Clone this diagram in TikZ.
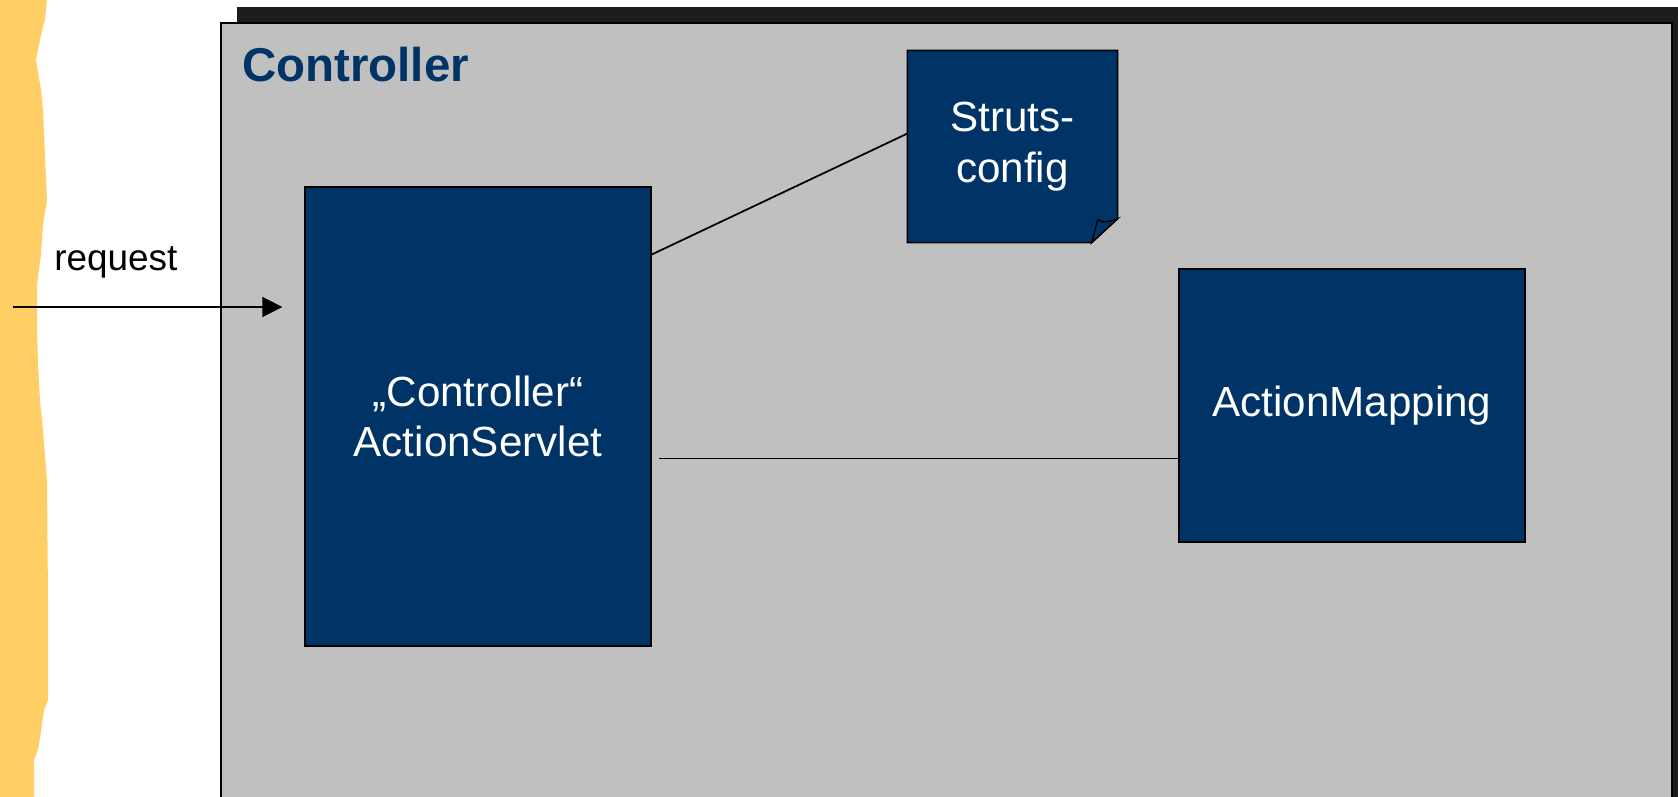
\documentclass[tikz,border=0pt]{standalone}
\usepackage{fontspec}
\setmainfont{Liberation Sans}
\usepackage{tikz}
\usetikzlibrary{arrows.meta}
\usetikzlibrary{positioning}
\definecolor{strutsblue}{RGB}{0,51,102}
\definecolor{panelgray}{RGB}{192,192,192}
\definecolor{shadowgray}{RGB}{28,28,28}
\definecolor{stripyellow}{RGB}{255,207,102}
\tikzset{
    block/.style={
      rectangle,
      draw=black, line width=0.8pt,
      fill=strutsblue,
      text=white,
      align=center,
      font=\fontsize{24}{28.9}\selectfont,
      inner sep=0pt,
    },
    note/.style={
      block,
      draw=none,
      minimum width=4.18cm,
      minimum height=3.82cm,
    },
    panel/.style={
      fill=panelgray,
      draw=black, line width=1.2pt,
    },
    title/.style={
      anchor=base west,
      inner sep=0pt,
      text=strutsblue,
      font=\bfseries\fontsize{27}{32}\selectfont,
    },
    lbl/.style={
      anchor=base west,
      inner sep=0pt,
      font=\fontsize{21}{25}\selectfont,
    },
    link/.style={
      draw=black, line width=1pt,
    },
}

\begin{document}
\begin{tikzpicture}[x=0.02cm,y=-0.02cm,>={Triangle[length=0.4cm,width=0.4cm]}]
  \clip (0,0) rectangle (1678,797);

  % torn yellow strip
  \fill[stripyellow] (0,0) -- (47,0) -- (45,20) -- (43,27) -- (40,40) -- (36,60)
    -- (41,90) -- (43,110) -- (47,200) -- (43,225) -- (41,255) -- (37,285)
    -- (37,330) -- (38,365) -- (40,400) -- (43,430) -- (47,480) -- (48,600)
    -- (48,700) -- (44,710) -- (42,725) -- (38,750) -- (34,760) -- (34,797)
    -- (0,797) -- cycle;

  % controller panel
  \fill[shadowgray] (237,7) rectangle (1700,830);
  \draw[panel] (221,23) rectangle (1672,830);
  \node[title] (title) at (242,82) {Controller};

  \node[block,
    minimum width=6.92cm,
    minimum height=9.18cm] (servlet) at (478,416.5)
    {„Controller“\\ActionServlet};

  \node[note] (strutscfg) at (1012.5,146.5) {Struts-\\config};
  \fill[panelgray] ([yshift=0.48cm]strutscfg.south east)
    -- (strutscfg.south east) -- ([xshift=-0.52cm]strutscfg.south east) -- cycle;
  \draw[link, line width=0.8pt] (strutscfg.north west) -- (strutscfg.north east)
    -- ([yshift=0.48cm]strutscfg.south east)
    -- ([xshift=-0.52cm]strutscfg.south east)
    -- (strutscfg.south west) -- cycle;
  % folded corner
  \filldraw[fill=strutsblue, draw=black, line width=0.8pt]
    ([xshift=-0.52cm]strutscfg.south east)
    -- ([xshift=-0.4cm,yshift=0.46cm]strutscfg.south east)
    .. controls +(0.1cm,-0.08cm) and +(-0.12cm,-0.05cm) ..
    ([yshift=0.48cm]strutscfg.south east) -- cycle;

  \node[block,
    minimum width=6.92cm,
    minimum height=5.46cm] (mapping) at (1352,405.5)
    {ActionMapping};

  \coordinate (reqin) at (13,307);
  \node[lbl] (reqlbl) at (54,271) {request};

  \draw[link, ->, shorten >=0.44cm] (reqin) -- (reqin -| servlet.west);
  \draw[link] (servlet.43) -- (strutscfg.173);
  \draw[link, shorten >=0.14cm] (mapping.197.5) -- (mapping.197.5 -| servlet.east);

\end{tikzpicture}
\end{document}
